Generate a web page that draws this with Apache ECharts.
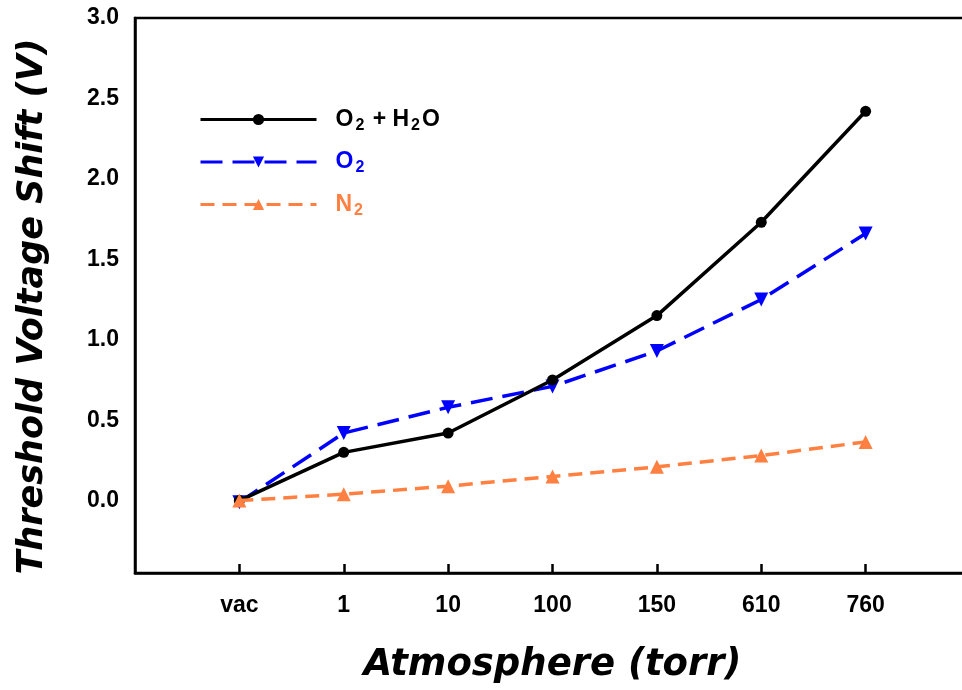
<!DOCTYPE html>
<html>
<head>
<meta charset="utf-8">
<script src="https://cdn.jsdelivr.net/npm/echarts@6/dist/echarts.min.js"></script>
<style>
  html, body { margin: 0; padding: 0; background: #fff; }
  #chart { width: 962px; height: 690px; }
</style>
</head>
<body>
<div id="chart"></div>
<script>
// pressure steps (torr), padded with empty slots on both ends
var atmosphere = ['vac', '1', '10', '100', '150', '610', '760'];
var o2h2o = [0.00, 0.30, 0.42, 0.75, 1.15, 1.73, 2.42];
var o2 = [-0.01, 0.42, 0.58, 0.71, 0.93, 1.25, 1.66];
var n2 = [0.00, 0.04, 0.09, 0.15, 0.21, 0.28, 0.365];
var yTicks = [0, 0.5, 1.0, 1.5, 2.0, 2.5, 3.0];

var categories = [''].concat(atmosphere).concat(['']);

function pairs(vals) {
  return vals.map(function (v, i) { return [atmosphere[i], v]; });
}

var legendText = {
  'O2 + H2O': '{b|O}{s|2}{b| + H}{s|2}{b|O}',
  'O2': '{b|O}{s|2}',
  'N2': '{b|N}{s|2}'
};

var font = 'Liberation Sans, Arial, sans-serif';
var titleFont = 'DejaVu Sans, sans-serif';

var myChart = echarts.init(document.getElementById('chart'));
var option = {
  animation: false,
  backgroundColor: '#fff',
  grid: {
    left: 135,
    right: -8,
    top: 18,
    bottom: 117,
    outerBoundsMode: 'none',
    show: true,
    borderColor: '#000',
    borderWidth: 2.5
  },
  legend: {
    orient: 'vertical',
    left: 194,
    top: 103,
    itemWidth: 116,
    itemHeight: 14,
    itemGap: 17,
    lineStyle: { width: 3 },
    data: [
      { name: 'O2 + H2O', textStyle: { color: '#000' } },
      { name: 'O2', textStyle: { color: '#0000ff' } },
      { name: 'N2', textStyle: { color: '#ff8040' } }
    ],
    formatter: function (name) { return legendText[name]; },
    textStyle: {
      padding: [0, 0, 0, 14],
      rich: {
        b: { fontFamily: font, fontWeight: 'bold', fontSize: 23 },
        s: { fontFamily: font, fontWeight: 'bold', fontSize: 16, padding: [12, 2, 0, 2] }
      }
    }
  },
  xAxis: {
    type: 'category',
    data: categories,
    boundaryGap: false,
    name: 'Atmosphere (torr)',
    nameLocation: 'middle',
    nameGap: 74,
    nameTextStyle: {
      fontFamily: titleFont, fontWeight: 'bold', fontStyle: 'italic', fontSize: 37, color: '#000'
    },
    axisLine: { onZero: false, lineStyle: { color: '#000', width: 2.5 } },
    axisTick: {
      inside: true,
      length: 9,
      lineStyle: { color: '#000', width: 2.5 },
      interval: function (idx, val) { return val !== ''; }
    },
    axisLabel: {
      margin: 21,
      fontFamily: font, fontWeight: 'bold', fontSize: 23, color: '#000'
    },
    splitLine: { show: false }
  },
  yAxis: {
    type: 'value',
    min: -0.45,
    max: 3.0,
    name: 'Threshold Voltage Shift (V)',
    nameLocation: 'middle',
    nameGap: 85,
    nameTextStyle: {
      fontFamily: titleFont, fontWeight: 'bold', fontStyle: 'italic', fontSize: 35, color: '#000',
      padding: [0, 22, 0, 0]
    },
    axisLine: { show: true, lineStyle: { color: '#000', width: 2.5 } },
    axisTick: {
      inside: true,
      length: 9,
      customValues: yTicks,
      lineStyle: { color: '#000', width: 2.5 }
    },
    axisLabel: {
      margin: 16,
      customValues: yTicks,
      formatter: function (v) { return v.toFixed(1); },
      fontFamily: font, fontWeight: 'bold', fontSize: 23, color: '#000'
    },
    splitLine: { show: false }
  },
  series: [
    {
      name: 'O2 + H2O',
      type: 'line',
      data: pairs(o2h2o),
      symbol: 'circle',
      symbolSize: 11,
      itemStyle: { color: '#000' },
      lineStyle: { color: '#000', width: 3.5 },
      z: 3
    },
    {
      name: 'O2',
      type: 'line',
      data: pairs(o2),
      symbol: 'triangle',
      symbolRotate: 180,
      symbolSize: 14,
      itemStyle: { color: '#0000ff' },
      lineStyle: { color: '#0000ff', width: 3.5, type: [22, 10] },
      z: 2
    },
    {
      name: 'N2',
      type: 'line',
      data: pairs(n2),
      symbol: 'triangle',
      symbolSize: 14,
      itemStyle: { color: '#ff8040' },
      lineStyle: { color: '#ff8040', width: 3.5, type: [14, 8] },
      z: 4
    }
  ]
};

myChart.setOption(option);
</script>
</body>
</html>
